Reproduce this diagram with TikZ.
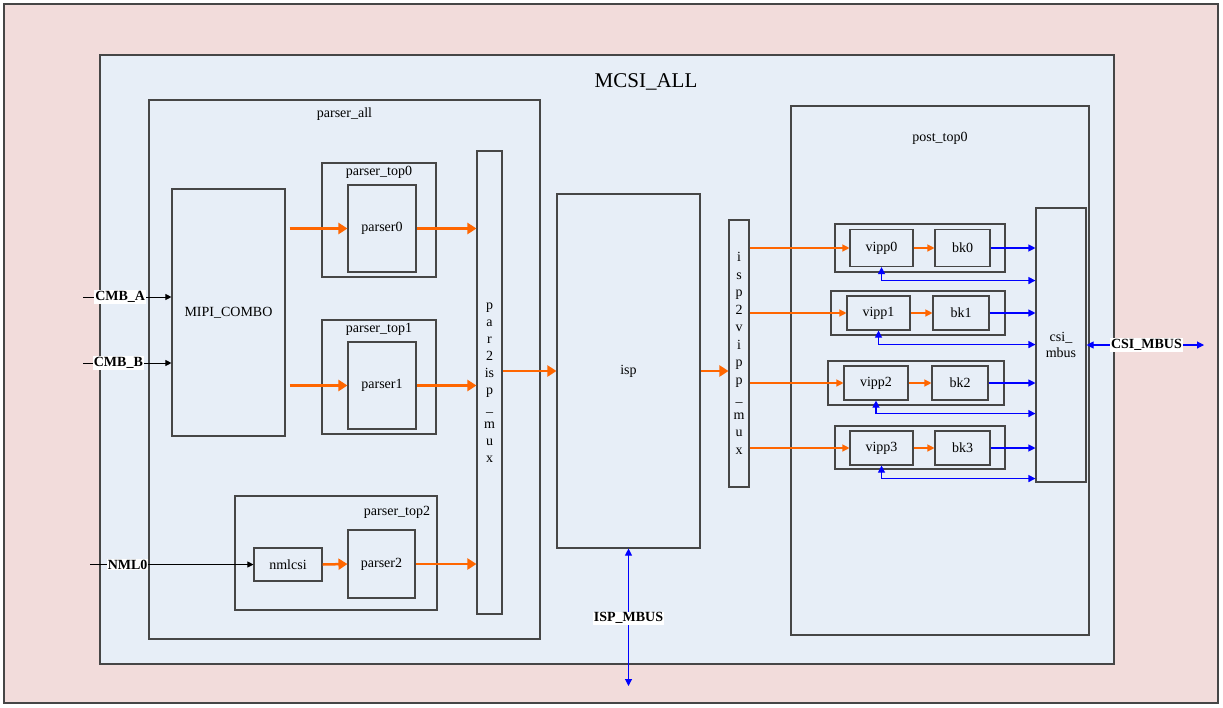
\documentclass[tikz,border=0pt]{standalone}
\usepackage{fontspec}
\setmainfont{Liberation Serif}
\usetikzlibrary{arrows.meta,calc}

\definecolor{bgpink}{RGB}{242,220,219}
\definecolor{bgblue}{RGB}{231,238,247}
\definecolor{boxgray}{RGB}{70,70,70}
\definecolor{sigorange}{RGB}{255,102,0}
\definecolor{busblue}{RGB}{0,0,255}

\begin{document}
\begin{tikzpicture}[x=1pt,y=-1pt,
    font=\fontsize{14}{16}\selectfont,
    blk/.style={draw=boxgray,line width=1.1pt,inner sep=0pt},
    pipe/.style={draw=sigorange,line width=2.5pt,-{Triangle[length=9pt,width=11pt]}},
    thinpipe/.style={draw=sigorange,line width=1.2pt,-{Triangle[length=7pt,width=7pt]}},
    busarr/.style={draw=busblue,line width=1.1pt,-{Triangle[length=7pt,width=7pt]}},
    busboth/.style={draw=busblue,line width=1.1pt,{Triangle[length=7pt,width=7pt]}-{Triangle[length=7pt,width=7pt]}},
    sig/.style={draw=black,line width=0.9pt,-{Triangle[length=6pt,width=6pt]}},
    lbl/.style={fill=white,inner sep=1pt,font=\fontsize{14}{16}\selectfont\bfseries},
    muxtext/.style={align=center,font=\fontsize{14}{17}\selectfont}]
    \useasboundingbox (0,0) rectangle (1223,707);

    % frames
    \node[blk,fill=bgpink,minimum width=1214pt,minimum height=699pt] (outer) at (611,353.5) {};
    \node[blk,fill=bgblue,minimum width=1014pt,minimum height=609pt] (mcsi) at (607,359.5) {};
    \node[font=\fontsize{21}{24}\selectfont] at ([xshift=39pt,yshift=-27pt]mcsi.north) {MCSI\_ALL};

    % parser side
    \node[blk,minimum width=391pt,minimum height=539pt] (parserall) at (344.5,369.5) {};
    \node at ([yshift=-15pt]parserall.north) {parser\_all};
    \node[blk,minimum width=113pt,minimum height=247pt] (mipi) at (228.5,312.5) {MIPI\_COMBO};

    \node[blk,minimum width=114pt,minimum height=114pt] (ptop0) at (379,220) {};
    \node at ([yshift=-10pt]ptop0.north) {parser\_top0};
    \node[blk,minimum width=68pt,minimum height=87pt] (parser0) at (382,228.5) {parser0};

    \node[blk,minimum width=114pt,minimum height=114pt] (ptop1) at (379,377) {};
    \node at ([yshift=-10pt]ptop1.north) {parser\_top1};
    \node[blk,minimum width=68pt,minimum height=87pt] (parser1) at (382,385.5) {parser1};

    \node[blk,minimum width=202pt,minimum height=114pt] (ptop2) at (336,553) {};
    \node at ([xshift=61pt,yshift=-17pt]ptop2.north) {parser\_top2};
    \node[blk,minimum width=68pt,minimum height=33pt] (nmlcsi) at (288,564.5) {nmlcsi};
    \node[blk,minimum width=67pt,minimum height=68pt] (parser2) at (381.5,564) {parser2};

    \node[blk,minimum width=25pt,minimum height=463pt] (p2imux) at (489.5,382.5) {};
    \node[muxtext] at (p2imux) {p\\a\\r\\2\\is\\p\\\_\\m\\u\\x};

    \node[blk,minimum width=143pt,minimum height=354pt] (isp) at (628.5,371) {isp};

    \node[blk,minimum width=20pt,minimum height=267pt] (i2vmux) at (739,353.5) {};
    \node[muxtext,font=\fontsize{14}{17.5}\selectfont] at (i2vmux) {i\\s\\p\\2\\v\\i\\p\\p\\\_\\m\\u\\x};

    % post side
    \node[blk,minimum width=298pt,minimum height=529pt] (posttop) at (940,370.5) {};
    \node at ([yshift=-33pt]posttop.north) {post\_top0};

    \node[blk,minimum width=170pt,minimum height=48pt] (grp0) at (920,248) {};
    \node[blk,minimum width=63pt,minimum height=37pt] (vipp0) at (881.5,248) {vipp0};
    \node[blk,minimum width=55pt,minimum height=37pt] (bk0) at (962.5,248) {bk0};

    \node[blk,minimum width=174pt,minimum height=44pt] (grp1) at (918,313) {};
    \node[blk,minimum width=63pt,minimum height=34pt] (vipp1) at (878.5,313) {vipp1};
    \node[blk,minimum width=56pt,minimum height=34pt] (bk1) at (961,313) {bk1};

    \node[blk,minimum width=176pt,minimum height=44pt] (grp2) at (916,383) {};
    \node[blk,minimum width=64pt,minimum height=34pt] (vipp2) at (876,383) {vipp2};
    \node[blk,minimum width=56pt,minimum height=34pt] (bk2) at (960,383) {bk2};

    \node[blk,minimum width=170pt,minimum height=43pt] (grp3) at (920,447.5) {};
    \node[blk,minimum width=63pt,minimum height=34pt] (vipp3) at (881.5,448) {vipp3};
    \node[blk,minimum width=55pt,minimum height=34pt] (bk3) at (962.5,448) {bk3};

    \node[blk,minimum width=50pt,minimum height=274pt,align=center] (csimbus) at (1061,345) {csi\_\\mbus};

    % inputs
    \coordinate (cmba) at (83,297);
    \coordinate (cmbb) at (83,363);
    \coordinate (nml) at (90,564.5);
    \draw[sig] (cmba) -- (mipi.west |- cmba) node[pos=0.42,lbl] {CMB\_A};
    \draw[sig] (cmbb) -- (mipi.west |- cmbb) node[pos=0.4,lbl] {CMB\_B};
    \draw[sig] (nml) -- (nmlcsi.west) node[pos=0.23,lbl] {NML0};

    % data path
    \draw[pipe] ([xshift=4pt]mipi.east |- parser0) -- (parser0.west);
    \draw[pipe] ([xshift=4pt]mipi.east |- parser1) -- (parser1.west);
    \draw[pipe] (parser0.east) -- (parser0.east -| p2imux.west);
    \draw[pipe] (parser1.east) -- (parser1.east -| p2imux.west);
    \draw[pipe] (nmlcsi.east) -- (parser2.west);
    \draw[pipe] (parser2.east) -- (parser2.east -| p2imux.west);
    \draw[pipe] (p2imux.east |- isp) -- (isp.west);
    \draw[pipe] (isp.east) -- (isp.east -| i2vmux.west);

    \draw[thinpipe] (i2vmux.east |- vipp0) -- (vipp0.west);
    \draw[thinpipe] (i2vmux.east |- vipp1) -- (vipp1.west);
    \draw[thinpipe] (i2vmux.east |- vipp2) -- (vipp2.west);
    \draw[thinpipe] (i2vmux.east |- vipp3) -- (vipp3.west);
    \draw[thinpipe] (vipp0.east) -- (bk0.west);
    \draw[thinpipe] (vipp1.east) -- (bk1.west);
    \draw[thinpipe] (vipp2.east) -- (bk2.west);
    \draw[thinpipe] (vipp3.east) -- (bk3.west);

    % buses
    \draw[busarr] (bk0.east) -- (bk0.east -| csimbus.west);
    \draw[busarr] (bk1.east) -- (bk1.east -| csimbus.west);
    \draw[busarr] (bk2.east) -- (bk2.east -| csimbus.west);
    \draw[busarr] (bk3.east) -- (bk3.east -| csimbus.west);
    \coordinate (fb0) at ([yshift=-8pt]grp0.south);
    \coordinate (fb1) at ([yshift=-9pt]grp1.south);
    \coordinate (fb2) at ([yshift=-8pt]grp2.south);
    \coordinate (fb3) at ([yshift=-9pt]grp3.south);
    \draw[busboth] (vipp0.south) |- (fb0 -| csimbus.west);
    \draw[busboth] (vipp1.south) |- (fb1 -| csimbus.west);
    \draw[busboth] (vipp2.south) |- (fb2 -| csimbus.west);
    \draw[busboth] (vipp3.south) |- (fb3 -| csimbus.west);

    \coordinate (csiend) at (1204,345);
    \coordinate (ispend) at (628.5,686);
    \draw[busboth] (csimbus.east) -- (csiend) node[pos=0.51,lbl] {CSI\_MBUS};
    \draw[busboth] (isp.south) -- (ispend) node[pos=0.507,lbl] {ISP\_MBUS};
\end{tikzpicture}
\end{document}
